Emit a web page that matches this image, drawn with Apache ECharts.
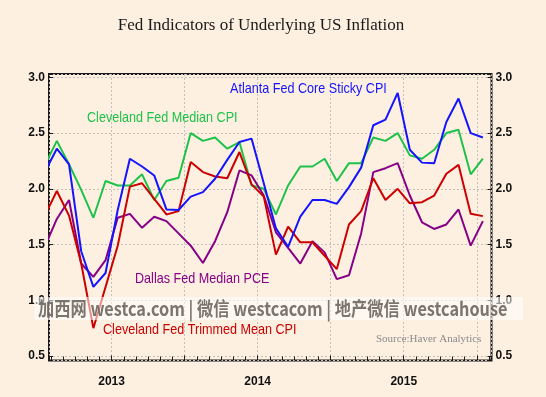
<!DOCTYPE html>
<html>
<head>
<meta charset="utf-8">
<script src="https://cdn.jsdelivr.net/npm/echarts@6/dist/echarts.min.js"></script>
<style>
html,body{margin:0;padding:0;background:#fdf0e0;}
#chart{width:546px;height:397px;}
</style>
</head>
<body>
<div id="chart"></div>
<script>
// Monthly observations, Jan 2013 .. Jan 2016
const months = [
  '2013-01','2013-02','2013-03','2013-04','2013-05','2013-06','2013-07','2013-08','2013-09','2013-10','2013-11','2013-12',
  '2014-01','2014-02','2014-03','2014-04','2014-05','2014-06','2014-07','2014-08','2014-09','2014-10','2014-11','2014-12',
  '2015-01','2015-02','2015-03','2015-04','2015-05','2015-06','2015-07','2015-08','2015-09','2015-10','2015-11','2015-12',
  '2016-01'
];
const atlantaStickyCPI = [2.15,2.36,2.22,1.44,1.12,1.245,1.81,2.27,2.20,2.12,1.815,1.81,1.93,1.97,2.09,2.26,2.42,2.45,2.05,1.645,1.48,1.75,1.90,1.90,1.865,2.015,2.19,2.57,2.62,2.86,2.35,2.235,2.23,2.60,2.81,2.50,2.46];
const clevelandMedianCPI = [2.21,2.43,2.22,1.99,1.74,2.07,2.03,2.03,2.13,1.90,2.07,2.10,2.50,2.43,2.46,2.36,2.42,2.03,2.00,1.77,2.03,2.20,2.20,2.27,2.07,2.23,2.23,2.46,2.43,2.50,2.30,2.27,2.35,2.50,2.53,2.13,2.27];
const clevelandTrimmedCPI = [1.76,1.98,1.76,1.33,0.75,1.12,1.49,2.02,2.05,1.91,1.77,1.80,2.24,2.15,2.11,2.095,2.33,2.04,1.93,1.41,1.66,1.52,1.52,1.40,1.28,1.68,1.80,2.095,1.90,2.00,1.87,1.88,1.94,2.135,2.215,1.776,1.755];
const dallasMedianPCE = [1.48,1.73,1.90,1.33,1.21,1.36,1.74,1.775,1.65,1.75,1.71,1.60,1.49,1.335,1.53,1.79,2.165,2.12,1.94,1.61,1.47,1.33,1.53,1.43,1.19,1.225,1.60,2.15,2.185,2.23,1.94,1.70,1.64,1.68,1.815,1.49,1.71];
const yearLabels = ['2013','2014','2015'];

// month position: months since Jan 1 2013, plotted mid-month
function monthPos(s) {
  const p = s.split('-');
  return (parseInt(p[0], 10) - 2013) * 12 + (parseInt(p[1], 10) - 1) + 0.5;
}
function toSeries(vals) { return vals.map((v, i) => [monthPos(months[i]), v]); }

const labelFont = '15px "Liberation Sans", Arial, sans-serif';
const narrow = 0.84;
const chart = echarts.init(document.getElementById('chart'), null, {renderer: 'canvas'});

const gridLine = {show: true, lineStyle: {color: '#c4c0bb', width: 1, type: [2, 2]}};
const yLabelFmt = v => (Math.abs(v * 2 - Math.round(v * 2)) < 1e-6 ? v.toFixed(1) : '');

chart.setOption({
  backgroundColor: '#fdf0e0',
  animation: false,
  grid: {left: 49, right: 54.5, top: 74, bottom: 36.5, show: true, borderColor: '#1a1a1a', borderWidth: 2, backgroundColor: 'transparent'},
  xAxis: {
    type: 'value', min: 0.855, max: 37.21, minInterval: 6, maxInterval: 6, splitNumber: 6,
    axisLine: {show: false},
    axisTick: {show: true, inside: true, length: 5, lineStyle: {color: '#1a1a1a', width: 1}},
    minorTick: {show: true, splitNumber: 6, length: 4, lineStyle: {color: '#1a1a1a', width: 1}},
    splitLine: gridLine,
    axisLabel: {
      margin: 15, color: '#111', fontSize: 12, fontWeight: 'bold', fontFamily: 'Liberation Sans, Arial, sans-serif',
      formatter: v => {
        const k = Math.round((v - 6) / 12);
        return (Math.abs(v - (6 + 12 * k)) < 1e-6 && yearLabels[k]) ? yearLabels[k] : '';
      }
    }
  },
  yAxis: [{
    type: 'value', position: 'left', min: 0.46, max: 3.03, minInterval: 0.5, maxInterval: 0.5,
    axisLine: {show: false},
    axisTick: {show: true, inside: true, length: 4, lineStyle: {color: '#1a1a1a'}},
    splitLine: gridLine,
    axisLabel: {margin: 4, color: '#111', fontSize: 12, fontWeight: 'bold', fontFamily: 'Liberation Sans, Arial, sans-serif', formatter: yLabelFmt}
  }, {
    type: 'value', position: 'right', min: 0.46, max: 3.03, minInterval: 0.5, maxInterval: 0.5,
    axisLine: {show: false},
    axisTick: {show: true, inside: true, length: 4, lineStyle: {color: '#1a1a1a'}},
    splitLine: {show: false},
    axisLabel: {margin: 4, color: '#111', fontSize: 12, fontWeight: 'bold', fontFamily: 'Liberation Sans, Arial, sans-serif', formatter: yLabelFmt}
  }],
  series: [
    {name: 'Cleveland Fed Median CPI', type: 'line', data: toSeries(clevelandMedianCPI), showSymbol: false, symbol: 'none', lineStyle: {color: '#1ec24a', width: 2}, z: 3},
    {name: 'Dallas Fed Median PCE', type: 'line', data: toSeries(dallasMedianPCE), showSymbol: false, symbol: 'none', lineStyle: {color: '#860086', width: 2}, z: 3},
    {name: 'Cleveland Fed Trimmed Mean CPI', type: 'line', data: toSeries(clevelandTrimmedCPI), showSymbol: false, symbol: 'none', lineStyle: {color: '#cc0000', width: 2}, z: 3},
    {name: 'Atlanta Fed Core Sticky CPI', type: 'line', data: toSeries(atlantaStickyCPI), showSymbol: false, symbol: 'none', lineStyle: {color: '#1414ff', width: 2}, z: 3}
  ],
  graphic: [
    {type: 'text', x: 261, y: 26, z: 50, style: {text: 'Fed Indicators of Underlying US Inflation', font: '17px "Liberation Serif", "Times New Roman", serif', fill: '#1a1a1a', align: 'center', verticalAlign: 'middle'}},
    {type: 'text', x: 230, y: 89, z: 50, scaleX: narrow, style: {text: 'Atlanta Fed Core Sticky CPI', font: labelFont, fill: '#1414ff', align: 'left', verticalAlign: 'middle'}},
    {type: 'text', x: 87, y: 118, z: 50, scaleX: narrow, style: {text: 'Cleveland Fed Median CPI', font: labelFont, fill: '#1ec24a', align: 'left', verticalAlign: 'middle'}},
    {type: 'text', x: 135, y: 279, z: 50, scaleX: narrow, style: {text: 'Dallas Fed Median PCE', font: labelFont, fill: '#860086', align: 'left', verticalAlign: 'middle'}},
    {type: 'text', x: 103, y: 330, z: 50, scaleX: narrow, style: {text: 'Cleveland Fed Trimmed Mean CPI', font: labelFont, fill: '#cc0000', align: 'left', verticalAlign: 'middle'}},
    {type: 'text', x: 376, y: 339, z: 50, style: {text: 'Source:Haver Analytics', font: '11px "Liberation Serif", serif', fill: '#8a8a8a', align: 'left', verticalAlign: 'middle'}},
    {type: 'rect', z: 60, shape: {x: 34, y: 297, width: 489, height: 23}, style: {fill: 'rgba(255,255,255,0.55)'}},
    {type: 'text', x: 38, y: 309, z: 61, scaleX: 0.855, style: {text: '加西网 westca.com | 微信 westcacom | 地产微信 westcahouse', font: 'bold 19px "Noto Sans CJK SC", sans-serif', fill: 'rgba(104,98,92,0.88)', align: 'left', verticalAlign: 'middle'}}
  ]
});
</script>
</body>
</html>
